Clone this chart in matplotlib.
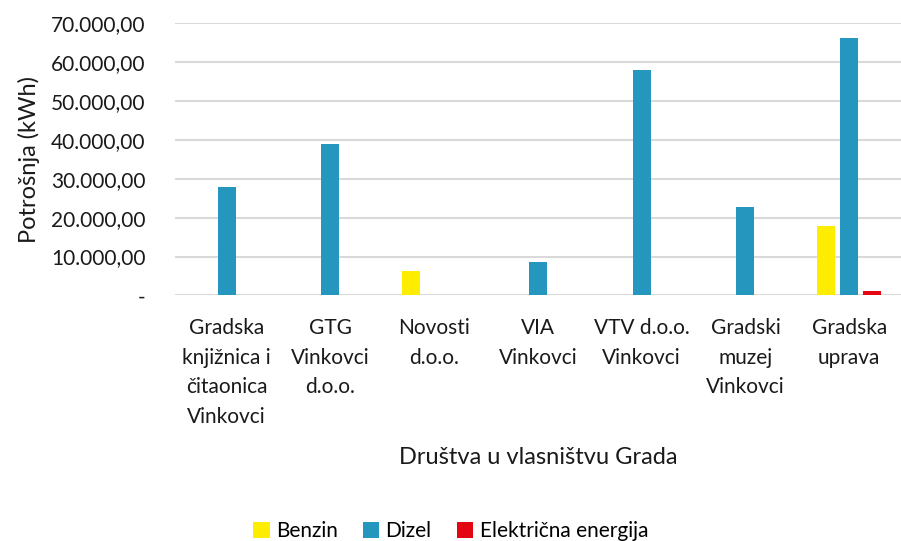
import matplotlib
matplotlib.use("Agg")
import matplotlib.pyplot as plt
import numpy as np
from matplotlib.ticker import FuncFormatter

categories = ["Gradska\nknjižnica i\nčitaonica\nVinkovci", "GTG\nVinkovci\nd.o.o.", "Novosti\nd.o.o.",
              "VIA\nVinkovci", "VTV d.o.o.\nVinkovci", "Gradski\nmuzej\nVinkovci", "Gradska\nuprava"]
benzin = [0, 0, 6200, 0, 0, 0, 17800]
dizel = [27800, 39000, 0, 8650, 58000, 22650, 66100]
elektricna = [0, 0, 0, 0, 0, 0, 1100]
series_names = ["Benzin", "Dizel", "Električna energija"]
colors = ["#FFED00", "#2596BE", "#E30613"]

plt.rcParams['font.family'] = ['Lato', 'DejaVu Sans']

fig = plt.figure(figsize=(9.01, 5.41), dpi=100)
ax = fig.add_axes([0.194, 0.454, 0.806, 0.503])

x = np.arange(len(categories))
step = 0.222
w = 0.174
for i, (vals, name, c) in enumerate(zip([benzin, dizel, elektricna], series_names, colors)):
    ax.bar(x + (i - 1) * step, vals, width=w, color=c, label=name, zorder=3)

ax.set_xlim(-0.5, 6.5)
ax.set_ylim(0, 70000)
ax.set_yticks(np.arange(0, 70001, 10000))

def fmt(v, pos):
    if v == 0:
        return "-"
    s = f"{v:,.2f}"
    return s.replace(",", "X").replace(".", ",").replace("X", ".")
ax.yaxis.set_major_formatter(FuncFormatter(fmt))
ax.grid(axis='y', color='#d9d9d9', linewidth=1.5, zorder=0)
for s in ax.spines.values():
    s.set_visible(False)
ax.tick_params(axis='both', length=0, labelsize=15, colors='#1a1a1a')
ax.tick_params(axis='y', pad=21)
ax.set_xticks(x)
ax.set_xticklabels(categories, linespacing=1.62, va='top')
ax.tick_params(axis='x', pad=16)
ax.set_ylabel("Potrošnja (kWh)", fontsize=17, color='#1a1a1a', labelpad=8)
ax.set_xlabel("Društva u vlasništvu Grada", fontsize=17, color='#1a1a1a', labelpad=14)

fig.legend(loc='lower center', bbox_to_anchor=(0.5, -0.035), ncol=3, frameon=False,
           fontsize=15, handlelength=0.8, handleheight=0.8, handletextpad=0.3, columnspacing=1.2)

fig.savefig("out.png", dpi=100)
